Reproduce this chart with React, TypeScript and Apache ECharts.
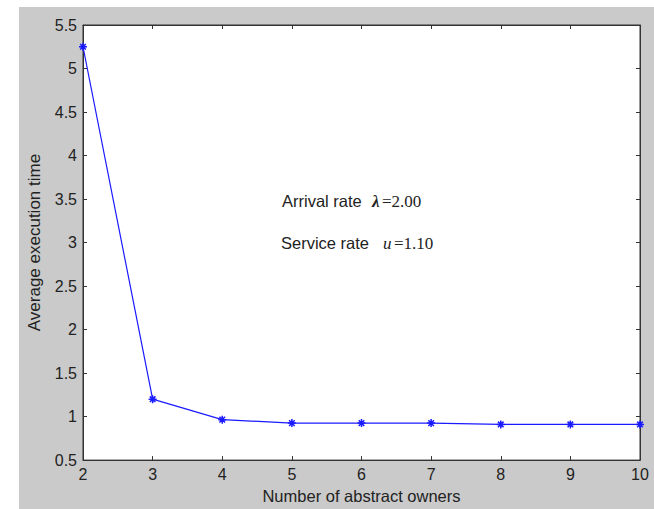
import React, { useEffect, useRef } from "react";
import * as echarts from "echarts";

const owners = [2, 3, 4, 5, 6, 7, 8, 9, 10];
const execTime = [5.25, 1.2, 0.965, 0.925, 0.925, 0.925, 0.91, 0.91, 0.91];
const xTicks = { min: 2, max: 10, interval: 1 };
const yTicks = { min: 0.5, max: 5.5, interval: 0.5 };
const xName = "Number of abstract owners";
const yName = "Average execution time";
const arrival = { label: "Arrival rate", sym: "λ", value: "=2.00" };
const service = { label: "Service rate", sym: "u", value: "=1.10" };

const FONT = "'Liberation Sans', Arial, sans-serif";
const SERIF = "'Liberation Serif', 'Times New Roman', serif";
const TXT = "#222";

export default function App() {
  const ref = useRef<HTMLDivElement>(null);
  useEffect(() => {
    if (!ref.current) return;
    const chart = echarts.init(ref.current, undefined, { renderer: "svg" });
    const axisLine = { show: true, lineStyle: { color: "#333", width: 1 } };
    const tick = { show: true, inside: true, length: 4, lineStyle: { color: "#333" } };
    const label = { color: TXT, fontFamily: FONT, fontSize: 16 };
    const txt = (x: number, y: number, text: string, font: string, size: number, extra = {}) => ({
      type: "text",
      x,
      y,
      z: 100,
      silent: true,
      style: { text, fontFamily: font, fontSize: size, fill: TXT, verticalAlign: "middle", ...extra },
    });
    chart.setOption({
      animation: false,
      backgroundColor: "#ffffff",
      graphic: [
        {
          type: "rect",
          z: -10,
          silent: true,
          shape: { x: 19, y: 7, width: 654 - 19, height: 509 - 7 },
          style: { fill: "#cacaca" },
        },
        txt(282, 201, arrival.label, FONT, 16.5),
        txt(372, 201, arrival.sym, SERIF, 17, { fontStyle: "italic", fontWeight: "bold" }),
        txt(382, 201, arrival.value, SERIF, 17),
        txt(281, 243, service.label, FONT, 16.5),
        txt(383, 243, service.sym, SERIF, 17, { fontStyle: "italic" }),
        txt(394, 243, service.value, SERIF, 17),
      ],
      grid: {
        left: 83,
        top: 25,
        right: 14,
        bottom: 45,
        show: true,
        backgroundColor: "#ffffff",
        borderColor: "#333",
        borderWidth: 1,
      },
      xAxis: [
        {
          type: "value",
          min: xTicks.min,
          max: xTicks.max,
          interval: xTicks.interval,
          name: xName,
          nameLocation: "middle",
          nameGap: 25,
          nameTextStyle: { color: TXT, fontFamily: FONT, fontSize: 16.5 },
          axisLine,
          axisTick: tick,
          axisLabel: { ...label, margin: 6 },
          splitLine: { show: false },
        },
        {
          type: "value",
          position: "top",
          min: xTicks.min,
          max: xTicks.max,
          interval: xTicks.interval,
          axisLine,
          axisTick: tick,
          axisLabel: { show: false },
          splitLine: { show: false },
        },
      ],
      yAxis: [
        {
          type: "value",
          min: yTicks.min,
          max: yTicks.max,
          interval: yTicks.interval,
          name: yName,
          nameLocation: "middle",
          nameGap: 40,
          nameTextStyle: { color: TXT, fontFamily: FONT, fontSize: 17 },
          axisLine,
          axisTick: tick,
          axisLabel: { ...label, margin: 6 },
          splitLine: { show: false },
        },
        {
          type: "value",
          position: "right",
          min: yTicks.min,
          max: yTicks.max,
          interval: yTicks.interval,
          axisLine,
          axisTick: tick,
          axisLabel: { show: false },
          splitLine: { show: false },
        },
      ],
      series: [
        {
          type: "line",
          data: owners.map((o, i) => [o, execTime[i]]),
          lineStyle: { color: "#1a1aff", width: 1.2 },
          symbol: "path://M5,0L5,10M0,5L10,5M1.5,1.5L8.5,8.5M8.5,1.5L1.5,8.5",
          symbolSize: 8,
          itemStyle: { color: "#1a1aff", borderColor: "#1a1aff", borderWidth: 1.5 },
          clip: false,
          z: 10,
        },
      ],
    });
    return () => chart.dispose();
  }, []);
  return (
    <div
      ref={ref}
      style={{ position: "fixed", left: 0, top: 0, width: 654, height: 509 }}
    />
  );
}
